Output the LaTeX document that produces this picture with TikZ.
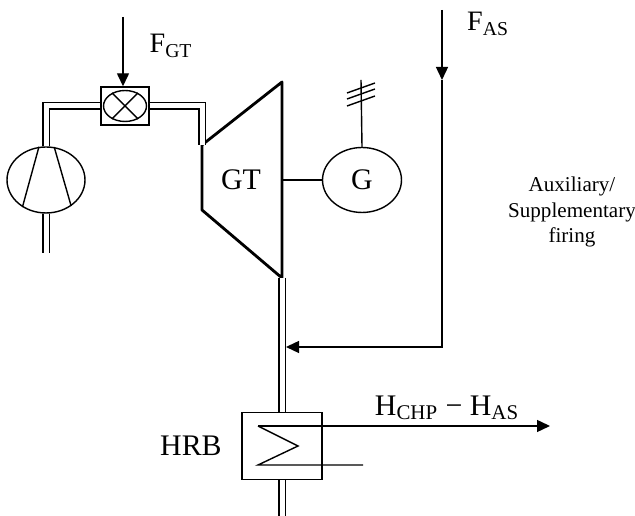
\documentclass[tikz,border=0pt]{standalone}
\usepackage{fontspec}
\setmainfont{Liberation Serif}
\usetikzlibrary{positioning,shapes.geometric,arrows.meta}
\begin{document}
\begin{tikzpicture}
[x=0.02cm,y=0.02cm,line width=0.8pt,
pipe/.style={double,double distance=0.1cm,line width=0.9pt},
flow/.style={-{Triangle[length=0.26cm,width=0.24cm]}},
unit/.style={draw,ellipse,inner sep=0pt},
unit box/.style={draw,rectangle,inner sep=0pt},
label text/.style={font=\fontsize{16}{18}\selectfont},
name text/.style={font=\fontsize{17}{19}\selectfont}]
\useasboundingbox (0,0) rectangle (635,516);
\node[unit box,minimum width=0.96cm,minimum height=0.76cm] (comb) at (125,410) {};
\node[unit,minimum width=0.86cm,minimum height=0.62cm] (burner) at (comb) {};
\draw (burner.45) -- (burner.225) (burner.135) -- (burner.315);
\node[unit,minimum width=1.56cm,minimum height=1.32cm] (comp) at (46,336) {};
\draw (comp.102) -- (comp.229) (comp.76) -- (comp.314);
\coordinate (gt nw) at (202,371);
\coordinate (gt ne) at (282,434);
\coordinate (gt se) at (282,238);
\coordinate (gt sw) at (202,306);
\draw[line width=1.6pt,line join=round] (gt nw) -- (gt ne) -- (gt se) -- (gt sw) -- cycle;
\node[name text] (gt) at (241,336) {GT};
\node[unit,minimum width=1.58cm,minimum height=1.3cm,name text] (gen) at (362,336) {G};
\draw[line width=1.2pt] (gt ne |- gen.west) -- (gen.west);
\coordinate (grid) at (361,436);
\draw (gen.north) -- (grid);
\foreach \y in {428,422,415}
  \draw (347,{\y-5}) -- (375,{\y+5});
\node[unit box,minimum width=1.6cm,minimum height=1.34cm] (hrb) at (282,70) {};
\node[name text,left=0.38cm of hrb,inner sep=0pt] (hrb label) {HRB};
\coordinate (fgt) at (123,499);
\draw[flow] (fgt) -- (comb.north -| fgt);
\node[label text] (fgt label) at (171,470) {F\textsubscript{GT}};
\draw[pipe] (comb.west) -| (comp.north);
\draw[pipe] (comb.east) -| (gt nw);
\coordinate (air) at (46,263);
\draw[pipe] (comp.south) -- (air);
\draw[pipe] (hrb.north |- gt se) -- (hrb.north);
\coordinate (stack) at (282,0);
\draw[pipe] (hrb.south) -- (stack);
\coordinate (fas) at (442,506);
\coordinate (fas mid) at (442,436);
\coordinate (mix) at (286,169);
\draw[flow] (fas) -- (fas mid);
\draw[flow] (fas mid) |- (mix);
\node[label text] (fas label) at (488,492) {F\textsubscript{AS}};
\node[align=center,font=\fontsize{12}{14.5}\selectfont] (firing) at (572,304) {Auxiliary/\\Supplementary\\firing};
\coordinate (zz a) at (258,90);
\coordinate (zz b) at (298,70);
\coordinate (zz c) at (258,51);
\coordinate (zz d) at (363,51);
\coordinate (heat) at (550,90);
\draw (zz a) -- (zz b) -- (zz c) -- (zz d);
\draw[flow] (zz a) -- (heat);
\node[label text,font=\fontsize{17}{19}\selectfont] (heat label) at (447,108) {H\textsubscript{CHP}~−~H\textsubscript{AS}};
\end{tikzpicture}
\end{document}
